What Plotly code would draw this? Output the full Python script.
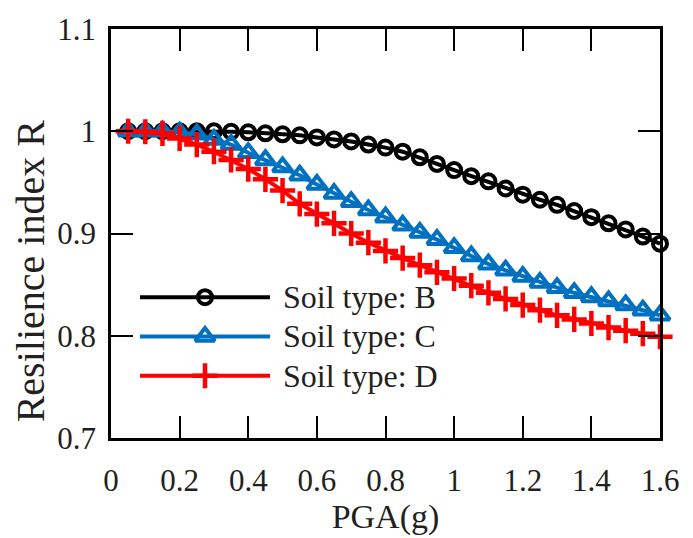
import plotly.graph_objects as go

# PGA levels (g)
pga = [0.05, 0.10, 0.15, 0.20, 0.25, 0.30, 0.35, 0.40, 0.45, 0.50,
       0.55, 0.60, 0.65, 0.70, 0.75, 0.80, 0.85, 0.90, 0.95, 1.00,
       1.05, 1.10, 1.15, 1.20, 1.25, 1.30, 1.35, 1.40, 1.45, 1.50,
       1.55, 1.60]

# Resilience index per soil type
soil_b = [1.000, 1.000, 1.000, 1.000, 1.000, 1.000, 0.9995, 0.999, 0.998, 0.997,
          0.996, 0.994, 0.992, 0.990, 0.987, 0.984, 0.980, 0.9745, 0.968, 0.962,
          0.956, 0.951, 0.944, 0.938, 0.933, 0.928, 0.922, 0.916, 0.910, 0.904,
          0.897, 0.890]
soil_c = [1.000, 1.000, 1.000, 0.999, 0.997, 0.992, 0.987, 0.979, 0.972, 0.965,
          0.957, 0.948, 0.939, 0.931, 0.923, 0.916, 0.908, 0.901, 0.894, 0.886,
          0.878, 0.870, 0.864, 0.858, 0.852, 0.847, 0.842, 0.838, 0.834, 0.830,
          0.825, 0.820]
soil_d = [1.000, 0.9995, 0.998, 0.993, 0.987, 0.980, 0.972, 0.963, 0.953, 0.942,
          0.929, 0.919, 0.910, 0.900, 0.891, 0.883, 0.876, 0.869, 0.862, 0.856,
          0.849, 0.842, 0.836, 0.830, 0.825, 0.820, 0.816, 0.812, 0.808, 0.805,
          0.802, 0.799]

labels = ["Soil type: B", "Soil type: C", "Soil type: D"]

x_ticks = [0, 0.2, 0.4, 0.6, 0.8, 1.0, 1.2, 1.4, 1.6]
y_ticks = [0.7, 0.8, 0.9, 1.0, 1.1]

# Figure geometry (px)
W, H = 693, 538
ML, MR, MT, MB = 111, 33, 20, 91
PW, PH = W - ML - MR, H - MT - MB

FONT = "Liberation Serif, Times New Roman, serif"
TXT = "#231f20"

styles = [
    dict(color="#000000", symbol="circle-open", size=14, lw=4),
    dict(color="#0070C0", symbol="triangle-up-open", size=17, lw=4),
    dict(color="#FF0000", symbol="cross-thin-open", size=18, lw=4.5),
]

fig = go.Figure()

for ys, st, name in zip([soil_b, soil_c, soil_d], styles, labels):
    fig.add_trace(go.Scatter(
        x=pga, y=ys, mode="lines+markers", name=name, showlegend=False,
        line=dict(color=st["color"], width=4),
        marker=dict(symbol=st["symbol"], size=st["size"], color=st["color"],
                    line=dict(color=st["color"], width=st["lw"])),
        cliponaxis=False,
    ))

# Hand-built legend on a pixel-scaled overlay axis so the sample lines are long
leg_x0, leg_x1, leg_xm, leg_tx = 140, 270, 205, 281
leg_rows = [300, 341, 382]
for row, st, name in zip(leg_rows, styles, labels):
    fig.add_trace(go.Scatter(
        x=[leg_x0, leg_x1], y=[row, row], mode="lines", xaxis="x2", yaxis="y2",
        line=dict(color=st["color"], width=4), showlegend=False, hoverinfo="skip",
    ))
    fig.add_trace(go.Scatter(
        x=[leg_xm], y=[row], mode="markers", xaxis="x2", yaxis="y2",
        marker=dict(symbol=st["symbol"], size=st["size"], color=st["color"],
                    line=dict(color=st["color"], width=st["lw"])),
        showlegend=False, hoverinfo="skip",
    ))
    fig.add_annotation(
        x=leg_tx, y=row, xref="x2", yref="y2", text=name, showarrow=False,
        xanchor="left", yanchor="middle",
        font=dict(family=FONT, size=32, color=TXT),
    )

# Y-axis title placed as a rotated annotation (sits slightly below axis centre)
fig.add_annotation(
    x=(30 - ML) / PW, y=(H - MB - 273) / PH, xref="paper", yref="paper",
    text="Resilience index R", textangle=-90, showarrow=False,
    xanchor="center", yanchor="middle",
    font=dict(family=FONT, size=40, color=TXT),
)

axis_common = dict(
    showline=True, linecolor="#000000", linewidth=2.5, mirror="ticks",
    ticks="inside", ticklen=22, tickwidth=2, tickcolor="#000000",
    showgrid=False, zeroline=False,
    tickfont=dict(family=FONT, size=31, color=TXT),
)

fig.update_layout(
    width=W, height=H,
    margin=dict(l=ML, r=MR, t=MT, b=MB),
    paper_bgcolor="white", plot_bgcolor="white",
    showlegend=False,
    xaxis=dict(
        range=[0, 1.6], tickvals=x_ticks, ticktext=[f"{v:g}" for v in x_ticks],
        title=dict(text="PGA(g)", font=dict(family=FONT, size=34, color=TXT), standoff=4),
        ticklabelstandoff=13,
        **axis_common,
    ),
    yaxis=dict(
        range=[0.7, 1.1], tickvals=y_ticks, ticktext=[f"{v:g}" for v in y_ticks],
        ticklabelstandoff=6,
        **axis_common,
    ),
    xaxis2=dict(range=[ML, W - MR], overlaying="x", visible=False, fixedrange=True),
    yaxis2=dict(range=[H - MB, MT], overlaying="y", visible=False, fixedrange=True),
)

fig.write_html("out.html")
